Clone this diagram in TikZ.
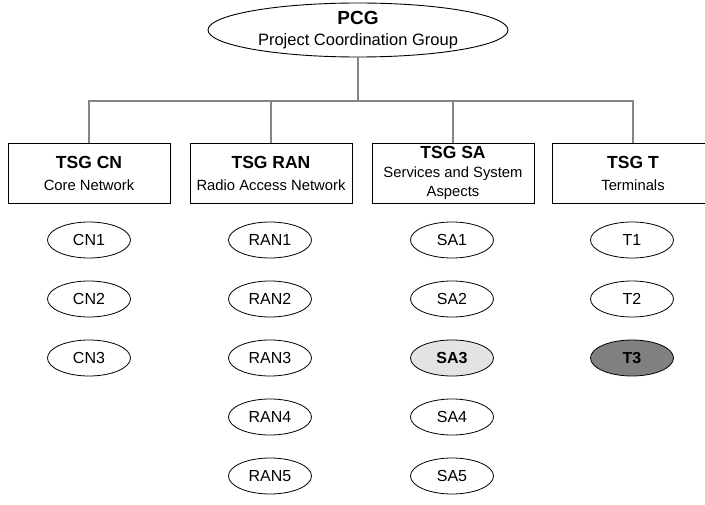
\documentclass[tikz,border=0pt]{standalone}
\usepackage{fontspec}
\setmainfont{Liberation Sans}
\usetikzlibrary{shapes.geometric}

\newcommand{\titlef}{\fontsize{17.5}{22}\selectfont\bfseries}
\newcommand{\subf}{\fontsize{14.8}{22}\selectfont}

\tikzset{
  pcgshape/.style={draw, line width=0.9pt, ellipse, minimum width=300pt, minimum height=54pt,
    inner sep=0pt, align=center, fill=white, font=\fontsize{16.5}{21}\selectfont},
  tsgbox/.style={draw, line width=0.9pt, rectangle, minimum width=162pt, minimum height=60pt,
    inner sep=0pt, align=center, fill=white, font=\fontsize{14.8}{22}\selectfont},
  wg/.style={draw, line width=0.8pt, ellipse, minimum width=83pt, minimum height=36pt,
    inner sep=0pt, fill=white, font=\fontsize{16}{19}\selectfont},
  wglight/.style={wg, fill=gray!22, font=\fontsize{16}{19}\selectfont\bfseries},
  wgdark/.style={wg, fill=black!50, font=\fontsize{16}{19}\selectfont\bfseries},
  link/.style={draw=black!48, line width=2.6pt},
}

\begin{document}
\begin{tikzpicture}[x=1pt, y=-1pt]
  \useasboundingbox (0,0) rectangle (705,505);
  \clip (0,0) rectangle (705,505);

  % top level
  \node[pcgshape] (pcg) at (358,30)
    {{\fontsize{19}{21}\selectfont\bfseries PCG}\\Project Coordination Group};

  % technical specification groups
  \node[tsgbox] (cn)  at (89,173)  {{\titlef TSG CN}\\{\subf Core Network}};
  \node[tsgbox] (ran) at (271,173) {{\titlef TSG RAN}\\{\subf Radio Access Network}};
  \node[tsgbox] (sa)  at (453,173) {{\titlef TSG SA}\\[-3pt]{\subf Services and System}\\[-3pt]{\subf Aspects}};
  \node[tsgbox] (t)   at (633,173) {{\titlef TSG T}\\{\subf Terminals}};

  % bus joining the groups
  \coordinate (bus) at (0,101);
  \draw[link] (pcg.south) -- (pcg.south |- bus);
  \draw[link] (cn.north) |- (t.north |- bus) -- (t.north);
  \draw[link] (ran.north) -- (ran.north |- bus);
  \draw[link] (sa.north) -- (sa.north |- bus);

  % working groups
  \node[wg] (cn1) at (89,240) {CN1};
  \node[wg] (cn2) at (89,299) {CN2};
  \node[wg] (cn3) at (89,358) {CN3};

  \node[wg] (ran1) at (270,240) {RAN1};
  \node[wg] (ran2) at (270,299) {RAN2};
  \node[wg] (ran3) at (270,358) {RAN3};
  \node[wg] (ran4) at (270,417) {RAN4};
  \node[wg] (ran5) at (270,476) {RAN5};

  \node[wg] (sa1) at (452,240) {SA1};
  \node[wg] (sa2) at (452,299) {SA2};
  \node[wglight] (sa3) at (452,358) {SA3};
  \node[wg] (sa4) at (452,417) {SA4};
  \node[wg] (sa5) at (452,476) {SA5};

  \node[wg] (t1) at (632,240) {T1};
  \node[wg] (t2) at (632,299) {T2};
  \node[wgdark] (t3) at (632,358) {T3};
\end{tikzpicture}
\end{document}
